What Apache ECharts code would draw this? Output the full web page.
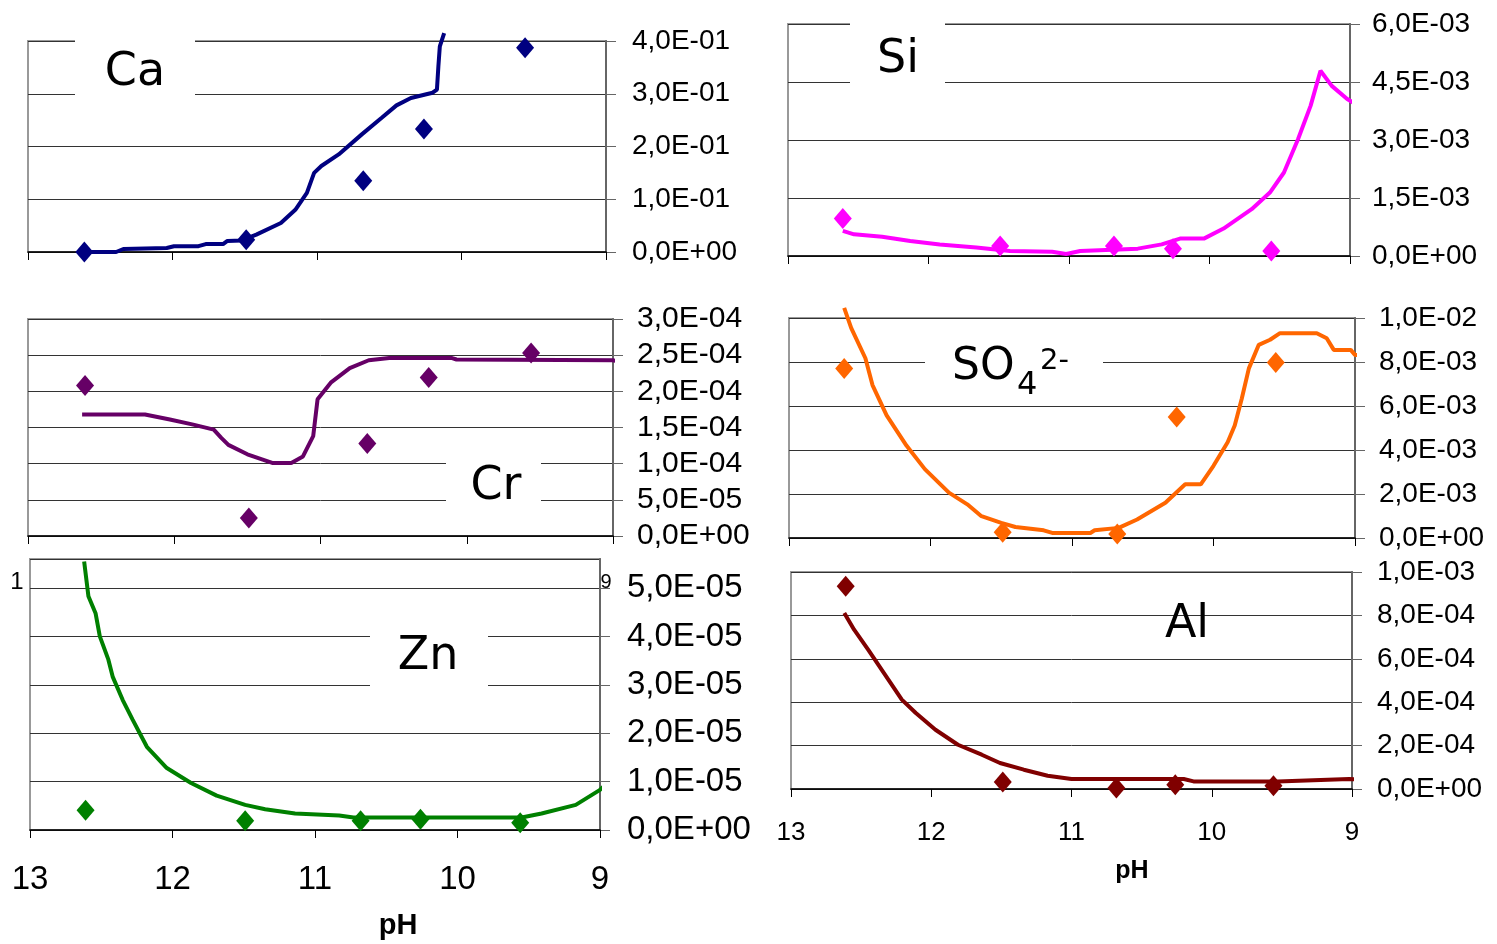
<!DOCTYPE html>
<html>
<head>
<meta charset="utf-8">
<script src="https://cdn.jsdelivr.net/npm/echarts@6/dist/echarts.min.js"></script>
<style>
  html, body { margin: 0; padding: 0; background: #fff; }
  #chart { width: 1497px; height: 944px; }
</style>
</head>
<body>
<div id="chart"></div>
<script>
// measured points, pH of the five samples (same for every panel)
var expPH = [12.61, 11.49, 10.68, 10.26, 9.56];

// Ca
var caLinePH = [12.61, 12.39, 12.34, 12.04, 11.99, 11.82, 11.77, 11.65, 11.62, 11.52, 11.42, 11.25, 11.15, 11.07, 11.02, 10.97, 10.85, 10.69, 10.55, 10.45, 10.35, 10.20, 10.17, 10.16, 10.15, 10.12];
var caLine = [0, 0, 0.0057, 0.0076, 0.011, 0.011, 0.015, 0.015, 0.021, 0.022, 0.033, 0.055, 0.080, 0.112, 0.150, 0.163, 0.185, 0.223, 0.255, 0.278, 0.292, 0.302, 0.308, 0.352, 0.390, 0.415];
var caExp = [0, 0.023, 0.135, 0.233, 0.387];

// Si
var siLinePH = [12.61, 12.53, 12.33, 12.13, 11.92, 11.66, 11.42, 11.12, 11.02, 10.92, 10.51, 10.34, 10.21, 10.04, 9.90, 9.70, 9.57, 9.47, 9.37, 9.28, 9.21, 9.13, 9.02, 8.92];
var siLine = [6.5e-4, 5.6e-4, 5.0e-4, 3.9e-4, 3.0e-4, 2.2e-4, 1.3e-4, 1.1e-4, 0.5e-4, 1.3e-4, 1.9e-4, 3.0e-4, 4.5e-4, 4.5e-4, 7.1e-4, 1.21e-3, 1.64e-3, 2.16e-3, 3.02e-3, 3.89e-3, 4.79e-3, 4.40e-3, 4.06e-3, 3.84e-3];
var siExp = [9.7e-4, 2.6e-4, 2.6e-4, 1.9e-4, 1.3e-4];

// Cr
var crLinePH = [12.63, 12.20, 12.03, 11.87, 11.73, 11.68, 11.63, 11.50, 11.33, 11.20, 11.12, 11.05, 11.02, 10.93, 10.80, 10.67, 10.53, 10.10, 10.07, 9.00, 8.92];
var crLine = [1.68e-4, 1.68e-4, 1.61e-4, 1.54e-4, 1.47e-4, 1.36e-4, 1.26e-4, 1.13e-4, 1.01e-4, 1.01e-4, 1.10e-4, 1.38e-4, 1.89e-4, 2.12e-4, 2.32e-4, 2.43e-4, 2.46e-4, 2.46e-4, 2.44e-4, 2.43e-4, 2.39e-4];
var crExp = [2.08e-4, 0.25e-4, 1.28e-4, 2.19e-4, 2.53e-4];

// SO4 2-
var soLinePH = [12.61, 12.56, 12.46, 12.41, 12.31, 12.17, 12.04, 11.87, 11.74, 11.64, 11.50, 11.40, 11.20, 11.14, 10.87, 10.84, 10.67, 10.54, 10.34, 10.20, 10.09, 10.00, 9.90, 9.85, 9.80, 9.75, 9.68, 9.60, 9.53, 9.27, 9.20, 9.15, 9.03, 9.00, 8.92];
var soLine = [10.46e-3, 9.54e-3, 8.17e-3, 6.95e-3, 5.57e-3, 4.20e-3, 3.13e-3, 2.06e-3, 1.53e-3, 0.99e-3, 0.69e-3, 0.50e-3, 0.35e-3, 0.23e-3, 0.23e-3, 0.35e-3, 0.46e-3, 0.84e-3, 1.60e-3, 2.44e-3, 2.44e-3, 3.28e-3, 4.35e-3, 5.11e-3, 6.34e-3, 7.71e-3, 8.78e-3, 9.01e-3, 9.31e-3, 9.31e-3, 9.08e-3, 8.55e-3, 8.55e-3, 8.32e-3, 8.32e-3];
var soExp = [7.71e-3, 0.26e-3, 0.18e-3, 5.50e-3, 7.98e-3];

// Zn
var znLinePH = [12.62, 12.59, 12.54, 12.51, 12.45, 12.42, 12.35, 12.28, 12.18, 12.04, 11.87, 11.69, 11.49, 11.35, 11.14, 10.83, 10.73, 9.55, 9.41, 9.17, 9.00, 8.90];
var znLine = [5.55e-5, 4.83e-5, 4.48e-5, 4.00e-5, 3.52e-5, 3.17e-5, 2.69e-5, 2.28e-5, 1.72e-5, 1.28e-5, 0.97e-5, 0.71e-5, 0.52e-5, 0.43e-5, 0.34e-5, 0.30e-5, 0.26e-5, 0.26e-5, 0.34e-5, 0.52e-5, 0.83e-5, 1.10e-5];
var znExp = [0.41e-5, 0.19e-5, 0.19e-5, 0.22e-5, 0.15e-5];

// Al
var alLinePH = [12.62, 12.55, 12.45, 12.33, 12.21, 12.11, 11.97, 11.81, 11.64, 11.51, 11.34, 11.17, 11.00, 10.20, 10.13, 9.53, 9.02, 8.92];
var alLine = [8.11e-4, 7.34e-4, 6.42e-4, 5.27e-4, 4.12e-4, 3.50e-4, 2.73e-4, 2.04e-4, 1.58e-4, 1.20e-4, 0.89e-4, 0.61e-4, 0.46e-4, 0.46e-4, 0.35e-4, 0.35e-4, 0.46e-4, 0.43e-4];
var alExp = [9.34e-4, 0.32e-4, 0.05e-4, 0.20e-4, 0.15e-4];

var phTicks = [13, 12, 11, 10, 9];

function pairs(xs, ys) {
  var out = [];
  for (var i = 0; i < xs.length; i++) out.push([xs[i], ys[i]]);
  return out;
}

// 4,0E-01 style labels
function sci(v) {
  if (v === 0) return '0,0E+00';
  var e = Math.floor(Math.log10(Math.abs(v)) + 1e-9);
  var ms = (v / Math.pow(10, e)).toFixed(1);
  if (ms === '10.0') { e += 1; ms = '1.0'; }
  var es = (e < 0 ? '-' : '+') + (Math.abs(e) < 10 ? '0' : '') + Math.abs(e);
  return ms.replace('.', ',') + 'E' + es;
}

var panels = [
  {box: [28, 41, 578, 211], max: 0.4, step: 0.1, fs: 28, m: 26, color: '#000080', lx: caLinePH, ly: caLine, ey: caExp},
  {box: [788, 24, 562, 232], max: 6e-3, step: 1.5e-3, fs: 28, m: 22, color: '#ff00ff', lx: siLinePH, ly: siLine, ey: siExp},
  {box: [28, 319, 585, 217], max: 3e-4, step: 5e-5, fs: 30, m: 24, color: '#660066', lx: crLinePH, ly: crLine, ey: crExp},
  {box: [789, 318, 566, 220], max: 1e-2, step: 2e-3, fs: 28, m: 24, color: '#ff6600', lx: soLinePH, ly: soLine, ey: soExp},
  {box: [30, 559, 570, 271], max: 5.6e-5, step: 1e-5, fs: 33, m: 27, color: '#008000', lx: znLinePH, ly: znLine, ey: znExp, xl: {fs: 33, m: 33}},
  {box: [791, 572, 561, 217], max: 1e-3, step: 2e-4, fs: 28, m: 25, color: '#800000', lx: alLinePH, ly: alLine, ey: alExp, xl: {fs: 26, m: 31}}
];

var grids = [], xAxes = [], yAxes = [], series = [];
panels.forEach(function (p, i) {
  grids.push({
    left: p.box[0], top: p.box[1], width: p.box[2], height: p.box[3],
    show: true, borderColor: '#999', borderWidth: 2, backgroundColor: 'transparent'
  });
  xAxes.push({
    gridIndex: i, type: 'value', min: phTicks[4], max: phTicks[0], interval: 1, inverse: true,
    axisLine: {lineStyle: {color: '#000', width: 1.5}},
    axisTick: {show: true, length: 8, lineStyle: {color: '#000'}},
    axisLabel: p.xl ? {show: true, fontFamily: 'Liberation Sans', fontSize: p.xl.fs, color: '#000', margin: p.xl.m} : {show: false},
    splitLine: {show: false}
  });
  yAxes.push({
    gridIndex: i, type: 'value', position: 'right', min: 0, max: p.max, interval: p.step,
    axisLine: {show: true, lineStyle: {color: '#666', width: 2}},
    axisTick: {show: true, length: 10, lineStyle: {color: '#666'}},
    axisLabel: {fontFamily: 'Liberation Sans', fontSize: p.fs, color: '#000', margin: p.m,
      showMaxLabel: i === 4 ? false : true, formatter: sci},
    splitLine: {show: true, lineStyle: {color: '#333', width: 1}}
  });
  series.push({
    type: 'line', xAxisIndex: i, yAxisIndex: i, data: pairs(p.lx, p.ly),
    symbol: 'none', clip: false, lineStyle: {color: p.color, width: 4}, z: 3
  });
  series.push({
    type: 'scatter', xAxisIndex: i, yAxisIndex: i, data: pairs(expPH, p.ey),
    symbol: 'diamond', symbolSize: [18, 21], itemStyle: {color: p.color, opacity: 1}, z: 4
  });
});

function label(text, x, y, font) {
  return {type: 'text', z: 20, style: {text: text, x: x, y: y, fill: '#000',
    font: font, textAlign: 'center', textVerticalAlign: 'middle'}};
}
function leftLabel(text, x, y, font) {
  return {type: 'text', z: 20, style: {text: text, x: x, y: y, fill: '#000',
    font: font, textAlign: 'left', textVerticalAlign: 'middle'}};
}
function whiteBox(x, y, w, h) {
  return {type: 'rect', z: 19, shape: {x: x, y: y, width: w, height: h}, style: {fill: '#fff'}};
}

var graphics = [
  whiteBox(75, 36, 120, 63), label('Ca', 135, 73, '46px "DejaVu Sans"'),
  whiteBox(850, 18, 95, 70), label('Si', 898, 60, '46px "DejaVu Sans"'),
  whiteBox(446, 452, 95, 58), label('Cr', 496, 487, '46px "DejaVu Sans"'),
  whiteBox(925, 338, 178, 62),
  leftLabel('SO', 952, 368, '44px "DejaVu Sans"'),
  leftLabel('4', 1017, 386, '32px "DejaVu Sans"'),
  leftLabel('2-', 1040, 361, '29px "DejaVu Sans"'),
  whiteBox(370, 628, 118, 66), label('Zn', 428, 657, '46px "DejaVu Sans"'),
  label('Al', 1187, 625, '46px "DejaVu Sans"'),
  label('pH', 398, 926, 'bold 29px "Liberation Sans"'),
  label('pH', 1132, 871, 'bold 25px "Liberation Sans"'),
  label('1', 17, 582, '24px "Liberation Sans"'),
  label('9', 606, 582, '20px "Liberation Sans"')
];

var dom = document.getElementById('chart');
var myChart = echarts.init(dom, null, {renderer: 'canvas'});
var option = {
  animation: false,
  backgroundColor: '#fff',
  grid: grids,
  xAxis: xAxes,
  yAxis: yAxes,
  series: series,
  graphic: graphics
};
myChart.setOption(option);
</script>
</body>
</html>
